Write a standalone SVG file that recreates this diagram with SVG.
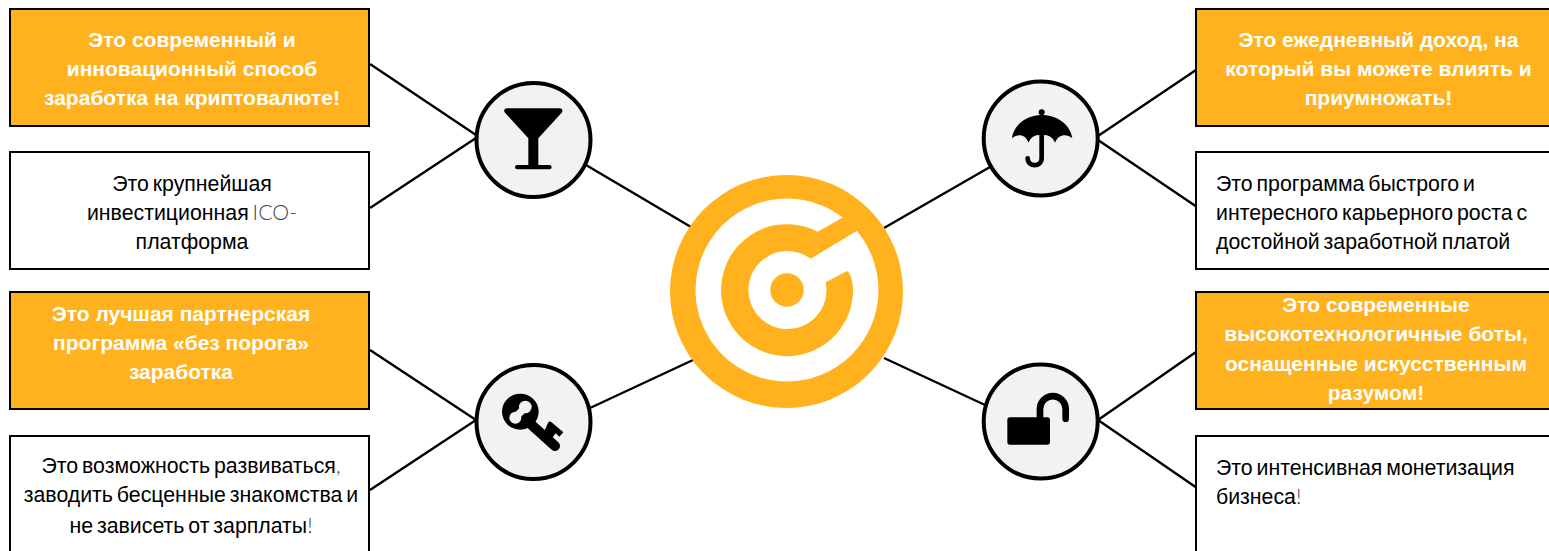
<svg xmlns="http://www.w3.org/2000/svg" width="1549" height="551" viewBox="0 0 1549 551">
<style>
.box{stroke:#000;stroke-width:2}
.o{fill:#ffb21e}
.w{fill:#fff}
.n{fill:#f2f2f2;stroke:#000;stroke-width:4}
text{font-family:"Liberation Sans",Arial,sans-serif;font-size:21.3px;word-spacing:-2px;fill:#000}
text.b{font-size:21px;word-spacing:0;font-weight:700;fill:#fff}
.m{text-anchor:middle}
.t{font-family:Lato,"Liberation Sans",sans-serif;font-weight:300;fill:#444}
#connectors line{stroke:#000;stroke-width:2.4}
</style>
<rect width="1549" height="551" fill="#fff"/>
<g id="connectors">
<line x1="370" y1="64" x2="476" y2="135"/><line x1="370" y1="208" x2="476" y2="138"/>
<line x1="370" y1="350" x2="476" y2="420"/><line x1="370" y1="490" x2="476" y2="420"/>
<line x1="586" y1="165" x2="691" y2="227"/><line x1="590" y1="408" x2="693" y2="360"/>
<line x1="884" y1="228" x2="990" y2="167"/><line x1="884" y1="358" x2="985" y2="405"/>
<line x1="1098" y1="136" x2="1196" y2="70"/><line x1="1098" y1="140" x2="1197" y2="207"/>
<line x1="1098" y1="420" x2="1196" y2="352"/><line x1="1098" y1="420" x2="1197" y2="488"/>
</g>
<g id="box-l1"><rect class="box o" x="10" y="9" width="359" height="117"/><text class="b m" x="192" y="47">Это современный и</text><text class="b m" x="192" y="76">инновационный способ</text><text class="b m" x="192" y="105">заработка на криптовалюте!</text></g>
<g id="box-l2"><rect class="box w" x="10" y="152" width="359" height="117"/><text class="m" x="192" y="191">Это крупнейшая</text><text class="m" x="192" y="220">инвестиционная <tspan class="t">ICO-</tspan></text><text class="m" x="192" y="249">платформа</text></g>
<g id="box-l3"><rect class="box o" x="10" y="292" width="359" height="117"/><text class="b m" x="181" y="321">Это лучшая партнерская</text><text class="b m" x="181" y="350">программа «без порога»</text><text class="b m" x="181" y="379">заработка</text></g>
<g id="box-l4"><rect class="box w" x="10" y="436" width="359" height="117"/><text class="m" x="191" y="473">Это возможность развиваться<tspan class="t">,</tspan></text><text class="m" x="191" y="502">заводить бесценные знакомства и</text><text class="m" x="191" y="533">не зависеть от зарплаты<tspan class="t">!</tspan></text></g>
<g id="box-r1"><rect class="box o" x="1196" y="9" width="356" height="117"/><text class="b m" x="1378.500" y="47">Это ежедневный доход, на</text><text class="b m" x="1378.500" y="76">который вы можете влиять и</text><text class="b m" x="1378.500" y="105">приумножать!</text></g>
<g id="box-r2"><rect class="box w" x="1196" y="152" width="356" height="117"/><text x="1216" y="191">Это программа быстрого и</text><text x="1216" y="220">интересного карьерного роста с</text><text x="1216" y="249">достойной заработной платой</text></g>
<g id="box-r3"><rect class="box o" x="1196" y="292" width="356" height="117"/><text class="b m" x="1376" y="312">Это современные</text><text class="b m" x="1376" y="341">высокотехнологичные боты,</text><text class="b m" x="1376" y="371">оснащенные искусственным</text><text class="b m" x="1376" y="400">разумом!</text></g>
<g id="box-r4"><rect class="box w" x="1196" y="436" width="356" height="117"/><text x="1216" y="475">Это интенсивная монетизация</text><text x="1216" y="504">бизнеса<tspan class="t">!</tspan></text></g>
<g id="hub"><circle class="o" cx="786.5" cy="291.5" r="116.5"/><circle class="w" cx="787" cy="290" r="91.5"/><circle class="o" cx="787" cy="290" r="16.7"/>
<path class="o" d="M817.7 231.700L842.3 217.700L860 205L870 222L856.700 231L810.700 258.700A39 39 0 1 0 825.700 282.300L847 271Q852 274 853 288A66 66 0 1 1 817.700 231.700Z"/></g>
<g id="node-glass"><circle class="n" cx="533.5" cy="140" r="57"/><path transform="translate(460 70) scale(.3333)" d="M140 115H300Q312 118 305 128L235 205V285H268Q275 285 275 292Q275 298 268 298H172Q165 298 165 292Q165 285 172 285H205V205L135 128Q128 118 140 115Z"/></g>
<g id="node-key"><circle class="n" cx="533.5" cy="422" r="57"/><g transform="translate(460 350) scale(.3333)"><ellipse cx="181" cy="185" rx="55" ry="54"/><circle cx="166" cy="203" r="18" fill="#f2f2f2"/><circle cx="196" cy="171" r="19" fill="#f2f2f2"/><path d="M170 198L192 176" stroke="#f2f2f2" stroke-width="22" fill="none"/><path d="M215 225L285 288" stroke="#000" stroke-width="30" stroke-linecap="round" fill="none"/><path d="M252 245L264 219Q268 212 274 216L310 247L298 260L287 250L278 262L262 256Z"/></g></g>
<g id="node-umbrella"><circle class="n" cx="1040.7" cy="138.5" r="57"/><g transform="translate(970 70) scale(.3333)"><circle cx="215" cy="127" r="9"/><path d="M126 205C130 165 170 135 215 135C262 135 302 165 307 205C290 190 265 192 255 218C248 198 225 190 215 198C205 190 182 198 176 218C165 192 145 190 126 205Z"/><path d="M215 195V265C215 292 173 292 173 265" fill="none" stroke="#000" stroke-width="14" stroke-linecap="round"/></g></g>
<g id="node-lock"><circle class="n" cx="1040.7" cy="421.5" r="57"/><g transform="translate(970 350) scale(.3333)"><rect x="112" y="202" width="128" height="82" rx="8"/><path d="M210 205V177A38.500 38.500 0 0 1 287 177V206" fill="none" stroke="#000" stroke-width="20" stroke-linecap="round"/></g></g>
</svg>
